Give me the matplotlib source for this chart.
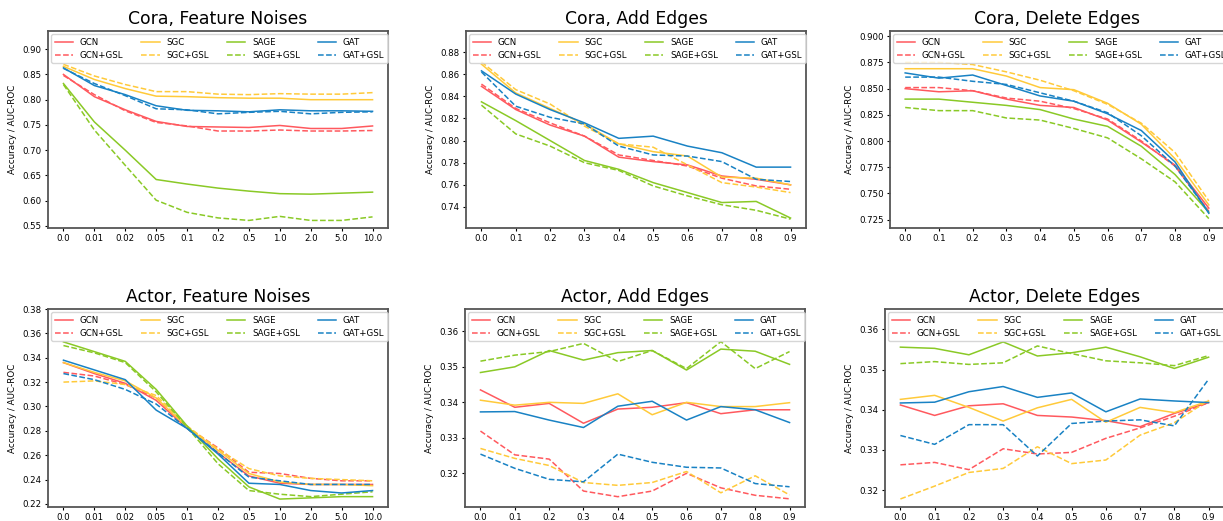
import matplotlib
matplotlib.use("Agg")
import matplotlib.pyplot as plt

# x tick labels
noise_levels = ['0.0', '0.01', '0.02', '0.05', '0.1', '0.2', '0.5', '1.0', '2.0', '5.0', '10.0']
edge_ratios = [0.0, 0.1, 0.2, 0.3, 0.4, 0.5, 0.6, 0.7, 0.8, 0.9]

models = ['GCN', 'SGC', 'SAGE', 'GAT']
colors = ['#FF595E', '#FFCA3A', '#8AC926', '#1982C4']

# Cora, Feature Noises
cora_fn = {
    'GCN':      [0.850, 0.806, 0.780, 0.757, 0.747, 0.746, 0.745, 0.749, 0.743, 0.743, 0.748],
    'GCN+GSL':  [0.848, 0.810, 0.778, 0.755, 0.748, 0.738, 0.738, 0.740, 0.738, 0.738, 0.739],
    'SGC':      [0.866, 0.840, 0.822, 0.807, 0.806, 0.804, 0.803, 0.803, 0.800, 0.800, 0.800],
    'SGC+GSL':  [0.870, 0.847, 0.830, 0.816, 0.816, 0.811, 0.810, 0.812, 0.811, 0.811, 0.814],
    'SAGE':     [0.832, 0.756, 0.700, 0.642, 0.633, 0.625, 0.619, 0.614, 0.613, 0.615, 0.617],
    'SAGE+GSL': [0.830, 0.740, 0.670, 0.601, 0.577, 0.566, 0.561, 0.569, 0.561, 0.561, 0.568],
    'GAT':      [0.863, 0.828, 0.810, 0.788, 0.779, 0.778, 0.776, 0.780, 0.778, 0.778, 0.777],
    'GAT+GSL':  [0.862, 0.832, 0.808, 0.782, 0.780, 0.772, 0.775, 0.777, 0.772, 0.775, 0.776],
}

# Cora, Add Edges
cora_ae = {
    'GCN':      [0.849, 0.828, 0.814, 0.804, 0.785, 0.781, 0.778, 0.768, 0.765, 0.760],
    'GCN+GSL':  [0.851, 0.829, 0.816, 0.804, 0.787, 0.782, 0.777, 0.766, 0.759, 0.756],
    'SGC':      [0.869, 0.843, 0.829, 0.815, 0.797, 0.790, 0.786, 0.767, 0.766, 0.760],
    'SGC+GSL':  [0.871, 0.846, 0.833, 0.813, 0.797, 0.794, 0.778, 0.762, 0.758, 0.753],
    'SAGE':     [0.835, 0.818, 0.800, 0.782, 0.774, 0.762, 0.753, 0.744, 0.745, 0.730],
    'SAGE+GSL': [0.832, 0.806, 0.795, 0.780, 0.773, 0.759, 0.750, 0.742, 0.737, 0.729],
    'GAT':      [0.863, 0.842, 0.828, 0.816, 0.802, 0.804, 0.795, 0.789, 0.776, 0.776],
    'GAT+GSL':  [0.862, 0.831, 0.821, 0.815, 0.795, 0.787, 0.786, 0.781, 0.765, 0.763],
}

# Cora, Delete Edges
cora_de = {
    'GCN':      [0.850, 0.847, 0.848, 0.840, 0.834, 0.832, 0.820, 0.799, 0.777, 0.736],
    'GCN+GSL':  [0.851, 0.851, 0.848, 0.841, 0.838, 0.831, 0.821, 0.800, 0.776, 0.733],
    'SGC':      [0.869, 0.869, 0.869, 0.862, 0.851, 0.849, 0.836, 0.816, 0.783, 0.739],
    'SGC+GSL':  [0.875, 0.875, 0.873, 0.866, 0.858, 0.848, 0.835, 0.817, 0.789, 0.743],
    'SAGE':     [0.840, 0.840, 0.837, 0.834, 0.830, 0.821, 0.814, 0.795, 0.768, 0.732],
    'SAGE+GSL': [0.832, 0.829, 0.829, 0.822, 0.820, 0.812, 0.803, 0.783, 0.761, 0.726],
    'GAT':      [0.865, 0.860, 0.863, 0.853, 0.843, 0.838, 0.826, 0.810, 0.780, 0.731],
    'GAT+GSL':  [0.861, 0.861, 0.857, 0.854, 0.846, 0.838, 0.827, 0.805, 0.776, 0.732],
}

# Actor, Feature Noises
actor_fn = {
    'GCN':      [0.336, 0.327, 0.319, 0.305, 0.282, 0.262, 0.243, 0.237, 0.236, 0.236, 0.236],
    'GCN+GSL':  [0.328, 0.325, 0.318, 0.307, 0.283, 0.266, 0.246, 0.245, 0.241, 0.239, 0.239],
    'SGC':      [0.336, 0.328, 0.321, 0.307, 0.283, 0.264, 0.245, 0.238, 0.236, 0.236, 0.235],
    'SGC+GSL':  [0.320, 0.321, 0.318, 0.309, 0.284, 0.265, 0.249, 0.243, 0.241, 0.240, 0.239],
    'SAGE':     [0.353, 0.345, 0.337, 0.314, 0.284, 0.257, 0.234, 0.224, 0.225, 0.226, 0.226],
    'SAGE+GSL': [0.350, 0.344, 0.336, 0.312, 0.283, 0.253, 0.231, 0.228, 0.226, 0.228, 0.230],
    'GAT':      [0.338, 0.330, 0.322, 0.297, 0.282, 0.261, 0.237, 0.236, 0.231, 0.229, 0.231],
    'GAT+GSL':  [0.327, 0.322, 0.314, 0.302, 0.282, 0.262, 0.242, 0.239, 0.236, 0.236, 0.236],
}

# Actor, Add Edges
actor_ae = {
    'GCN':      [0.3435, 0.3386, 0.3397, 0.3341, 0.3381, 0.3386, 0.3399, 0.3368, 0.3379, 0.3379],
    'GCN+GSL':  [0.3319, 0.3252, 0.3240, 0.3150, 0.3134, 0.3150, 0.3200, 0.3159, 0.3138, 0.3128],
    'SGC':      [0.3406, 0.3392, 0.3400, 0.3397, 0.3424, 0.3365, 0.3400, 0.3388, 0.3388, 0.3399],
    'SGC+GSL':  [0.3270, 0.3242, 0.3222, 0.3174, 0.3166, 0.3174, 0.3205, 0.3145, 0.3193, 0.3139],
    'SAGE':     [0.3484, 0.3500, 0.3546, 0.3519, 0.3540, 0.3546, 0.3491, 0.3550, 0.3544, 0.3507],
    'SAGE+GSL': [0.3516, 0.3533, 0.3543, 0.3566, 0.3515, 0.3546, 0.3495, 0.3571, 0.3495, 0.3543],
    'GAT':      [0.3373, 0.3374, 0.3350, 0.3329, 0.3389, 0.3403, 0.3350, 0.3388, 0.3379, 0.3343],
    'GAT+GSL':  [0.3254, 0.3214, 0.3183, 0.3176, 0.3254, 0.3231, 0.3217, 0.3215, 0.3171, 0.3162],
}

# Actor, Delete Edges
actor_de = {
    'GCN':      [0.3412, 0.3386, 0.3410, 0.3415, 0.3386, 0.3382, 0.3373, 0.3358, 0.3391, 0.3418],
    'GCN+GSL':  [0.3263, 0.3269, 0.3251, 0.3303, 0.3290, 0.3294, 0.3329, 0.3355, 0.3384, 0.3418],
    'SGC':      [0.3426, 0.3436, 0.3406, 0.3372, 0.3405, 0.3426, 0.3369, 0.3406, 0.3393, 0.3422],
    'SGC+GSL':  [0.3178, 0.3210, 0.3244, 0.3254, 0.3308, 0.3266, 0.3275, 0.3337, 0.3368, 0.3424],
    'SAGE':     [0.3556, 0.3553, 0.3537, 0.3569, 0.3534, 0.3542, 0.3556, 0.3532, 0.3503, 0.3531],
    'SAGE+GSL': [0.3515, 0.3520, 0.3513, 0.3517, 0.3559, 0.3540, 0.3522, 0.3517, 0.3510, 0.3535],
    'GAT':      [0.3417, 0.3419, 0.3445, 0.3458, 0.3431, 0.3442, 0.3395, 0.3427, 0.3422, 0.3418],
    'GAT+GSL':  [0.3336, 0.3314, 0.3363, 0.3363, 0.3285, 0.3366, 0.3372, 0.3375, 0.3360, 0.3476],
}

W, H = 1223, 521

def px_axes(fig, left, right, top, bottom):
    return fig.add_axes([left / W, 1 - bottom / H, (right - left) / W, (bottom - top) / H])

def draw(ax, data, title, ylim, categorical):
    if categorical:
        x = list(range(len(noise_levels)))
    else:
        x = edge_ratios
    for m, c in zip(models, colors):
        ax.plot(x, data[m], color=c, lw=1.1, label=m)
        ax.plot(x, data[m + '+GSL'], color=c, lw=1.1, ls='--', label=m + '+GSL')
    if categorical:
        ax.set_xticks(x)
        ax.set_xticklabels(noise_levels)
    else:
        ax.set_xticks(edge_ratios)
    ax.set_ylim(ylim)
    ax.set_title(title, fontsize=12.4, pad=5)
    ax.set_ylabel('Accuracy / AUC-ROC', fontsize=6.3)
    ax.tick_params(labelsize=6.2, length=2.5, width=0.8, pad=2)
    for s in ax.spines.values():
        s.set_color('#555555')
        s.set_linewidth(1.3)
    ax.legend(ncol=4, loc='upper left', fontsize=6.2, handlelength=2.1,
              columnspacing=2.1, borderaxespad=0.4, labelspacing=0.45,
              frameon=True)

fig = plt.figure(figsize=(W / 100, H / 100), dpi=100)

ax1 = px_axes(fig, 48, 388, 31, 228)
ax2 = px_axes(fig, 466, 806, 31, 228)
ax3 = px_axes(fig, 890, 1224, 31, 228)
ax4 = px_axes(fig, 48, 388, 309, 507)
ax5 = px_axes(fig, 465, 805, 309, 507)
ax6 = px_axes(fig, 885, 1224, 309, 507)

draw(ax1, cora_fn, 'Cora, Feature Noises', (0.546, 0.936), True)
draw(ax2, cora_ae, 'Cora, Add Edges', (0.721, 0.899), False)
draw(ax3, cora_de, 'Cora, Delete Edges', (0.717, 0.905), False)
draw(ax4, actor_fn, 'Actor, Feature Noises', (0.2175, 0.380), True)
draw(ax5, actor_ae, 'Actor, Add Edges', (0.3105, 0.3663), False)
draw(ax6, actor_de, 'Actor, Delete Edges', (0.3158, 0.3651), False)

ax3.set_yticks([0.725, 0.75, 0.775, 0.8, 0.825, 0.85, 0.875, 0.9])

fig.savefig('out.png', dpi=100)
